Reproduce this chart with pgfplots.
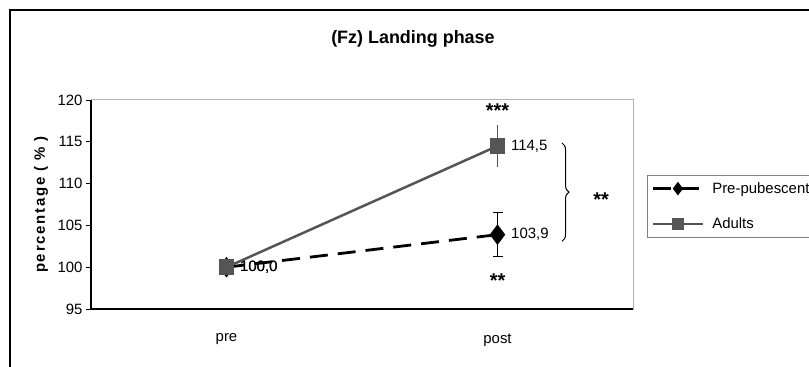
\documentclass[border=0pt]{standalone}
\usepackage{pgfplots}
\pgfplotsset{compat=1.18}
\usepackage{fontspec}
\setmainfont{Liberation Sans}
\usetikzlibrary{decorations.pathreplacing}
\definecolor{adultgray}{HTML}{555555}
\begin{document}
\begin{tikzpicture}[x=1bp,y=1bp]
\clip (0,0) rectangle (809,366);
\draw[line width=1.2bp] (10,-5) -- (10,356) -- (815,356);
\begin{axis}[
  at={(91bp,57bp)}, anchor=south west,
  scale only axis, width=542bp, height=209bp,
  xmin=-0.5, xmax=1.5, ymin=95, ymax=120,
  xtick={0,1}, xticklabels={pre,post},
  ytick={95,100,...,120},
  ytick pos=left,
  major x tick style={draw=none},
  ytick style={black, line width=0.8bp},
  tick align=outside,
  major tick length=5bp,
  axis line style={gray!60, line width=1bp},
  tick label style={font=\fontsize{15}{17}\selectfont},
  xticklabel style={yshift=-16bp},
  /pgf/number format/assume math mode=true,
  ylabel={\addfontfeature{LetterSpace=12}percentage ( \% )},
  ylabel style={font=\bfseries\fontsize{15}{17}\selectfont, at={(axis description cs:-0.092,0.5)}, anchor=center},
  title={(Fz) Landing phase},
  title style={font=\bfseries\fontsize{18}{20}\selectfont, at={(axis description cs:0.594,1.266)}, anchor=center},
  legend style={at={(axis description cs:1.026,0.641)}, anchor=north west, draw=gray, line width=0.8bp,
    font=\fontsize{15}{17}\selectfont, row sep=19bp, inner xsep=4bp, inner ysep=5bp},
  legend cell align=left,
  legend image code/.code={\draw[mark repeat=2,mark phase=2,#1, mark size=4.5bp] plot coordinates {(0bp,0bp)(25bp,0bp)(50bp,0bp)}; \path (56bp,0bp);},
  point meta=explicit symbolic,
  nodes near coords,
  nodes near coords style={anchor=west, xshift=9bp, font=\fontsize{15}{17}\selectfont, text=black},
  clip=false,
]
\addplot[black, line width=2.8bp, dash pattern=on 18bp off 10bp, mark=diamond*, mark size=8bp,
  mark options={solid},
  error bars/.cd, y dir=both, y explicit,
  error bar style={line width=1.2bp, solid, black},
  error mark options={rotate=90, mark size=5bp, line width=1.2bp, black}]
  table[x=x, y=y, y error=e, meta=lab] {
x y e lab
0 100.0 0 100,0
1 103.9 2.6 103,9
};
\addlegendentry{Pre-pubescent}
\addplot[adultgray, line width=2.5bp, mark=square*, mark size=6.5bp, mark options={solid},
  error bars/.cd, y dir=both, y explicit,
  error bar style={line width=1.2bp, adultgray},
  error mark=none]
  table[x=x, y=y, y error=e, meta=lab] {
x y e lab
0 100.0 0 100,0
1 114.5 2.5 114,5
};
\addlegendentry{Adults}
\draw[black, line width=1.2bp] (axis cs:-0.5,120) -- (axis cs:-0.5,95) -- (axis cs:1.5,95);
\node[font=\bfseries\fontsize{20}{22}\selectfont] at (axis cs:1,118.7) {***};
\node[font=\bfseries\fontsize{20}{22}\selectfont] at (axis cs:1,98.4) {**};
\node[font=\bfseries\fontsize{20}{22}\selectfont] at (axis cs:1.382,108.1) {**};
\draw[black, line width=1bp, decorate, decoration={brace, amplitude=7bp}] (axis cs:1.238,114.86) -- (axis cs:1.238,103.1);
\end{axis}
\end{tikzpicture}
\end{document}
